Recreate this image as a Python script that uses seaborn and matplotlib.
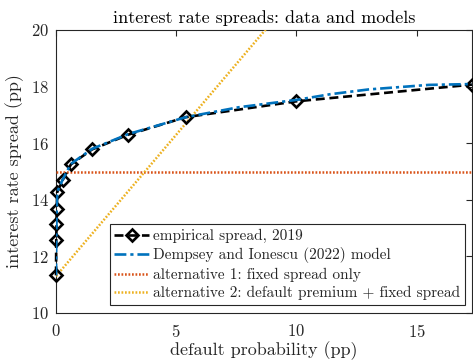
import matplotlib
matplotlib.use("Agg")
import matplotlib.pyplot as plt
import seaborn as sns
import pandas as pd

# empirical spreads by default probability (pp)
emp_default = [0.0, 0.01, 0.02, 0.03, 0.05, 0.28, 0.62, 1.5, 3.0, 5.4, 10.0, 17.3]
emp_spread = [11.33, 12.57, 13.14, 13.68, 14.27, 14.70, 15.25, 15.78, 16.30, 16.92, 17.48, 18.07]

# model-implied spreads
model_default = [0.0, 0.01, 0.02, 0.03, 0.05, 0.28, 0.62, 1.5, 3.0, 5.4, 7.6, 10.0, 11.4, 13.0, 15.5, 17.3]
model_spread = [11.33, 12.57, 13.14, 13.68, 14.27, 14.72, 15.27, 15.80, 16.32, 16.92, 17.27, 17.53, 17.73, 17.90, 18.06, 18.09]

# alternative 1: fixed spread only
alt1_default = [0.0, 17.3]
alt1_spread = [15.0, 15.0]

# alternative 2: default premium + fixed spread
alt2_default = [0.0, 17.3]
alt2_spread = [11.3, 28.6]

labels = [
    "empirical spread, 2019",
    "Dempsey and Ionescu (2022) model",
    "alternative 1: fixed spread only",
    "alternative 2: default premium + fixed spread",
]
x_ticks = [0, 5, 10, 15]
y_ticks = [10, 12, 14, 16, 18, 20]

sns.set_theme(style="white")
plt.rcParams["font.family"] = ["cmr10", "DejaVu Serif"]
plt.rcParams["axes.formatter.use_mathtext"] = True
plt.rcParams["axes.unicode_minus"] = False

fig = plt.figure(figsize=(4.73, 3.61), dpi=100)
ax = fig.add_axes([56 / 473, 1 - 313 / 361, (472 - 56) / 473, (313 - 30) / 361])

emp = pd.DataFrame({"x": emp_default, "y": emp_spread})
mod = pd.DataFrame({"x": model_default, "y": model_spread})
a1 = pd.DataFrame({"x": alt1_default, "y": alt1_spread})
a2 = pd.DataFrame({"x": alt2_default, "y": alt2_spread})

sns.lineplot(data=emp, x="x", y="y", ax=ax, color="black", linestyle=(0, (3.4, 1.8)),
             linewidth=1.9, marker="D", markersize=6, markerfacecolor="none",
             markeredgecolor="black", markeredgewidth=1.9, estimator=None,
             label=labels[0], zorder=4, clip_on=False)
sns.lineplot(data=mod, x="x", y="y", ax=ax, color="#0072BD", linestyle=(0, (4.5, 1.5, 1.2, 1.5)),
             linewidth=1.9, estimator=None, label=labels[1], zorder=5)
sns.lineplot(data=a1, x="x", y="y", ax=ax, color="#D95319", linestyle=(0, (0.7, 0.7)),
             linewidth=1.8, estimator=None, label=labels[2], zorder=3)
sns.lineplot(data=a2, x="x", y="y", ax=ax, color="#EDB120", linestyle=(0, (0.7, 0.7)),
             linewidth=1.8, estimator=None, label=labels[3], zorder=3)

ax.set_xlim(0, 17.3)
ax.set_ylim(10, 20)
ax.set_xticks(x_ticks)
ax.set_yticks(y_ticks)
ax.tick_params(direction="in", length=4, width=0.8, top=True, right=True,
               labelsize=12, colors="#262626")
ax.tick_params(axis="x", pad=7)
ax.tick_params(axis="y", pad=5)
for s in ax.spines.values():
    s.set_color("#262626")
    s.set_linewidth(0.8)

ax.set_xlabel("default probability (pp)", fontsize=13, color="#262626", labelpad=1)
ax.set_ylabel("interest rate spread (pp)", fontsize=13, color="#262626", labelpad=5)
ax.set_title("interest rate spreads: data and models", fontsize=13, color="black", pad=5)

leg = ax.legend(loc="lower right", bbox_to_anchor=(0.983, 0.028), borderaxespad=0,
                fontsize=11, handlelength=2.3, handletextpad=0.25, labelspacing=0.28,
                borderpad=0.3, frameon=True, fancybox=False, framealpha=1)
leg.get_frame().set_edgecolor("#262626")
leg.get_frame().set_linewidth(0.8)

fig.savefig("out.png", dpi=100)
